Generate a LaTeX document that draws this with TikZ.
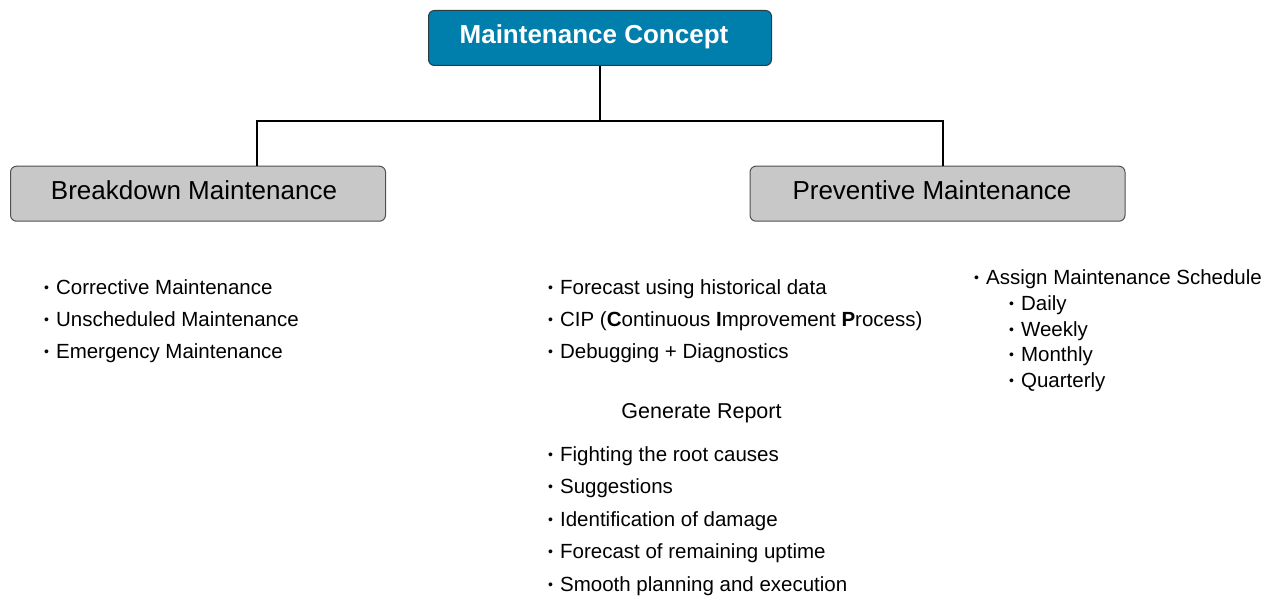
\documentclass[tikz,border=0pt]{standalone}
\usepackage{fontspec}
\setmainfont{Liberation Sans}
\definecolor{teal1}{RGB}{0,127,172}
\definecolor{tealborder}{RGB}{40,60,70}
\definecolor{graybox}{RGB}{200,200,200}
\definecolor{grayborder}{RGB}{80,80,80}
\newcommand\bul{\raisebox{1.8pt}{\fontsize{14}{14}\selectfont •}\hspace{7pt}}
\begin{document}
\begin{tikzpicture}[x=1pt,y=-1pt,
  topbox/.style={draw=tealborder,line width=1pt,fill=teal1,rounded corners=6pt,
    minimum width=343pt,minimum height=55pt,inner sep=0pt,text=white,
    font=\fontsize{26}{30}\selectfont\bfseries,text height=18pt,text depth=6pt},
  catbox/.style={draw=grayborder,line width=1pt,fill=graybox,rounded corners=6pt,
    minimum width=375pt,minimum height=55pt,inner sep=0pt,text=black,
    font=\fontsize{26}{30}\selectfont,text height=18pt,text depth=7pt},
  item/.style={anchor=base west,inner sep=0pt,font=\fontsize{20.5}{24}\selectfont},
  heading/.style={anchor=base,inner sep=0pt,font=\fontsize{21.5}{25}\selectfont},
  conn/.style={line width=2pt,draw=black}]
\useasboundingbox (0,0) rectangle (1279,596);
% boxes
\node[topbox] (top) at (600,38) {Maintenance Concept\hspace*{12pt}};
\node[catbox] (left) at (198,193.7) {Breakdown Maintenance\hspace*{8pt}};
\node[catbox] (right) at (937.5,193.7) {Preventive Maintenance\hspace*{11pt}};
% connectors
\coordinate (j) at (600,121);
\draw[conn] (top.south) -- (j);
\draw[conn] ([xshift=59pt]left.north) |- (j) -| ([xshift=5pt]right.north);
% left list
\node[item] (l1) at (44,294) {\bul Corrective Maintenance};
\node[item] (l2) at (44,326) {\bul Unscheduled Maintenance};
\node[item] (l3) at (44,358) {\bul Emergency Maintenance};
% middle list
\node[item] (m1) at (548,294) {\bul Forecast using historical data};
\node[item] (m2) at (548,326) {\bul CIP (\textbf{C}ontinuous \textbf{I}mprovement \textbf{P}rocess)};
\node[item] (m3) at (548,358) {\bul Debugging + Diagnostics};
\node[heading] (gr) at (701.5,418) {Generate Report};
\node[item] (r1) at (548,461.5) {\bul Fighting the root causes};
\node[item] (r2) at (548,493.5) {\bul Suggestions};
\node[item] (r3) at (548,526) {\bul Identification of damage};
\node[item] (r4) at (548,558.5) {\bul Forecast of remaining uptime};
\node[item] (r5) at (548,591) {\bul Smooth planning and execution};
% right list
\node[item] (s0) at (974,284.5) {\bul Assign Maintenance Schedule};
\node[item] (s1) at (1009,310) {\bul Daily};
\node[item] (s2) at (1009,336) {\bul Weekly};
\node[item] (s3) at (1009,361.5) {\bul Monthly};
\node[item] (s4) at (1009,387) {\bul Quarterly};
\end{tikzpicture}
\end{document}
